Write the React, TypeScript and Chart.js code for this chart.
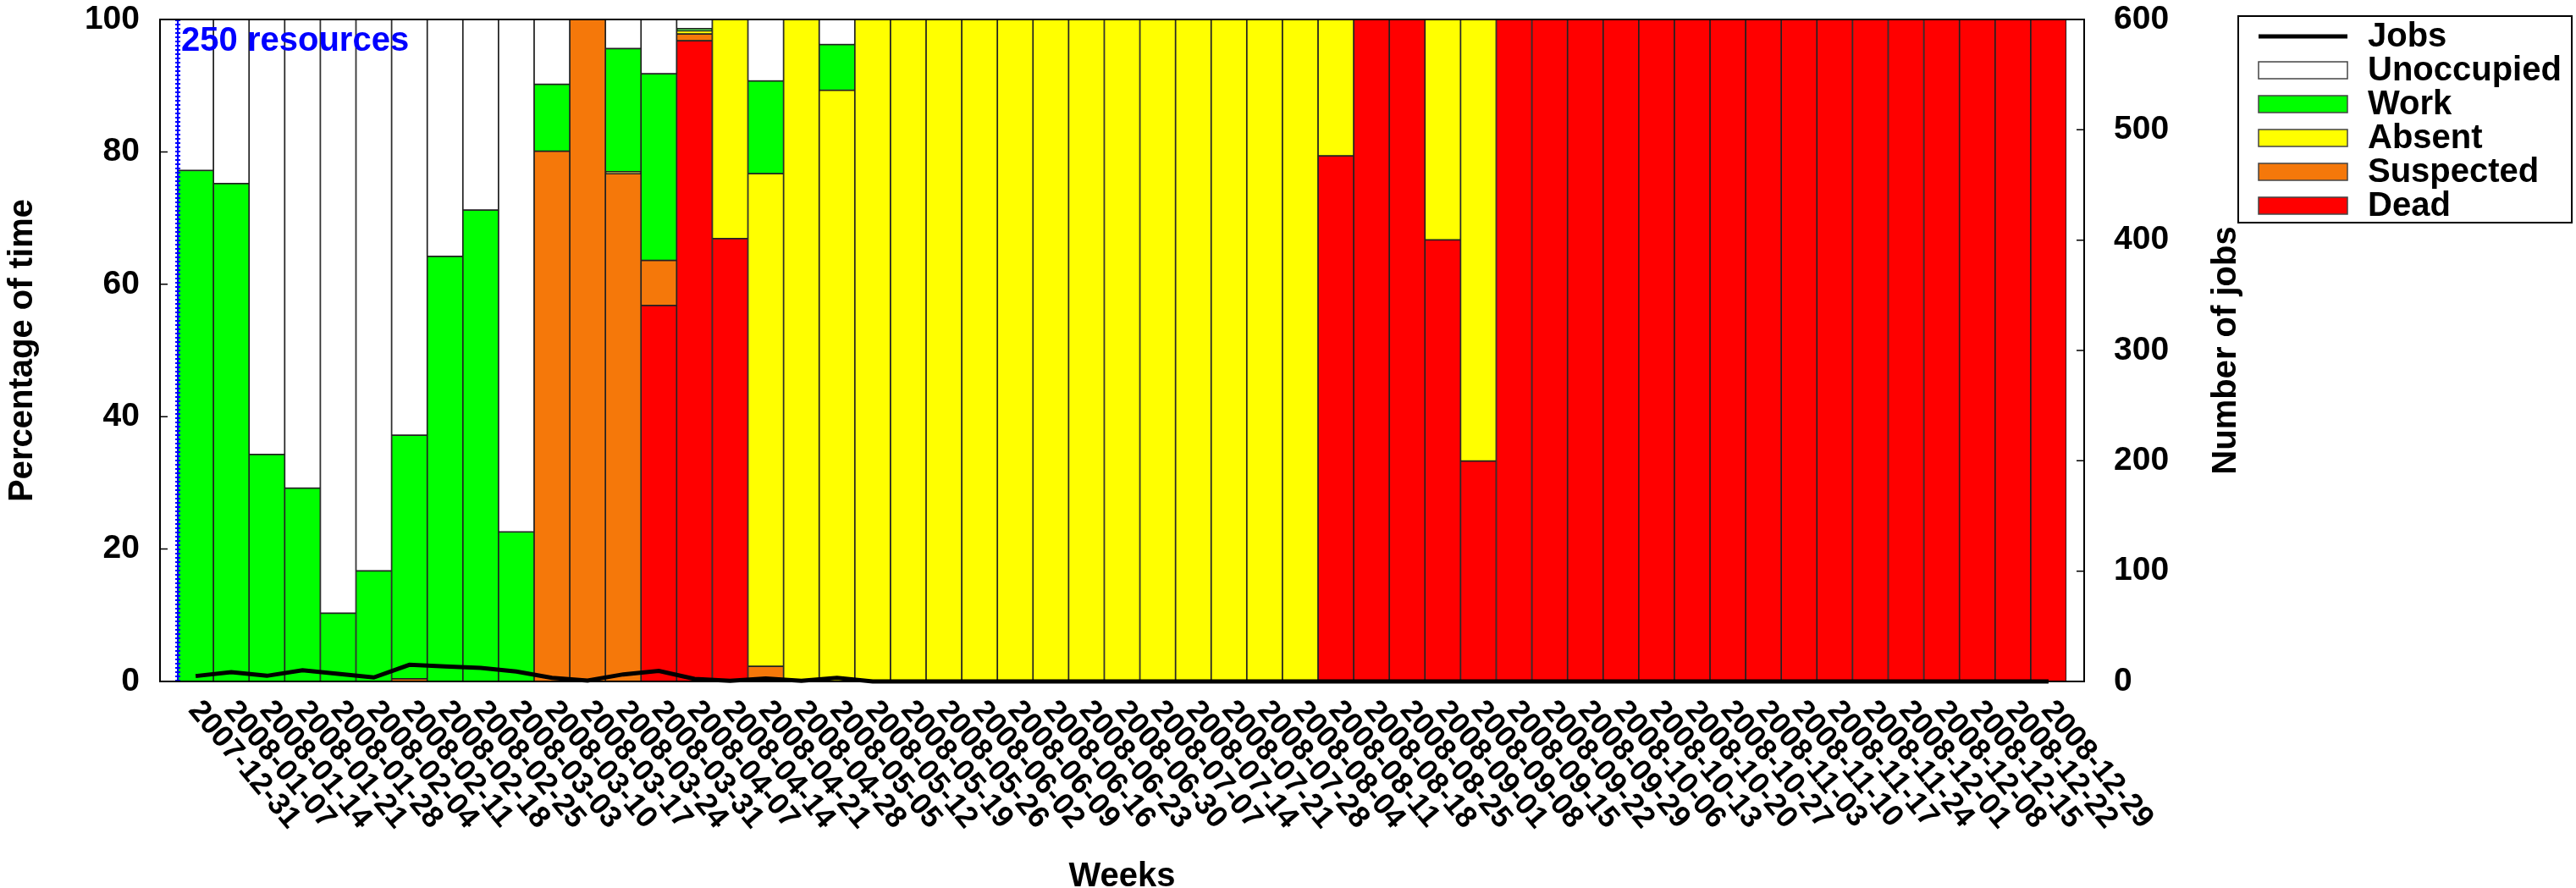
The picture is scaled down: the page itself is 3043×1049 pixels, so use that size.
import React, { useEffect, useRef } from 'react';
import { Chart, registerables } from 'chart.js';

Chart.register(...registerables);

const weeks = [
  '2007-12-31', '2008-01-07', '2008-01-14', '2008-01-21', '2008-01-28', '2008-02-04', '2008-02-11',
  '2008-02-18', '2008-02-25', '2008-03-03', '2008-03-10', '2008-03-17', '2008-03-24', '2008-03-31',
  '2008-04-07', '2008-04-14', '2008-04-21', '2008-04-28', '2008-05-05', '2008-05-12', '2008-05-19',
  '2008-05-26', '2008-06-02', '2008-06-09', '2008-06-16', '2008-06-23', '2008-06-30', '2008-07-07',
  '2008-07-14', '2008-07-21', '2008-07-28', '2008-08-04', '2008-08-11', '2008-08-18', '2008-08-25',
  '2008-09-01', '2008-09-08', '2008-09-15', '2008-09-22', '2008-09-29', '2008-10-06', '2008-10-13',
  '2008-10-20', '2008-10-27', '2008-11-03', '2008-11-10', '2008-11-17', '2008-11-24', '2008-12-01',
  '2008-12-08', '2008-12-15', '2008-12-22', '2008-12-29',
];

// Percentage of time per week (stacked bottom -> top: Dead, Suspected, Absent, Work, Unoccupied)
const dead = [
  0, 0, 0, 0, 0, 0, 0, 0, 0, 0, 0, 0, 0, 56.8, 96.8, 66.9, 0, 0, 0, 0, 0, 0, 0, 0, 0, 0, 0, 0, 0, 0, 0, 0,
  79.4, 100, 100, 66.7, 33.3, 100, 100, 100, 100, 100, 100, 100, 100, 100, 100, 100, 100, 100, 100, 100, 100,
];
const suspected = [
  0, 0, 0, 0, 0, 0, 0.4, 0, 0, 0, 80.1, 100, 76.7, 6.8, 1.0, 0, 2.3, 0, 0, 0, 0, 0, 0, 0, 0, 0, 0, 0, 0, 0, 0, 0,
  0, 0, 0, 0, 0, 0, 0, 0, 0, 0, 0, 0, 0, 0, 0, 0, 0, 0, 0, 0, 0,
];
const absent = [
  0, 0, 0, 0, 0, 0, 0, 0, 0, 0, 0, 0, 0.3, 0, 0.5, 33.1, 74.4, 100, 89.3, 100, 100, 100, 100, 100, 100, 100, 100, 100, 100, 100, 100, 100,
  20.6, 0, 0, 33.3, 66.7, 0, 0, 0, 0, 0, 0, 0, 0, 0, 0, 0, 0, 0, 0, 0, 0,
];
const work = [
  77.2, 75.2, 34.3, 29.2, 10.3, 16.7, 36.8, 64.2, 71.2, 22.6, 10.1, 0, 18.6, 28.2, 0.3, 0, 14.0, 0, 6.9, 0, 0, 0, 0, 0, 0, 0, 0, 0, 0, 0, 0, 0,
  0, 0, 0, 0, 0, 0, 0, 0, 0, 0, 0, 0, 0, 0, 0, 0, 0, 0, 0, 0, 0,
];
const unoccupied = [
  22.8, 24.8, 65.7, 70.8, 89.7, 83.3, 62.8, 35.8, 28.8, 77.4, 9.8, 0, 4.4, 8.2, 1.4, 0, 9.3, 0, 3.8, 0, 0, 0, 0, 0, 0, 0, 0, 0, 0, 0, 0, 0,
  0, 0, 0, 0, 0, 0, 0, 0, 0, 0, 0, 0, 0, 0, 0, 0, 0, 0, 0, 0, 0,
];
// Number of jobs per week (right axis)
const jobs = [
  4.9, 8.4, 5.1, 10.2, 6.9, 3.6, 15.1, 13.6, 12.2, 9.0, 3.3, 0.8, 6.4, 9.5, 2.3, 0.5, 2.6, 0.5, 3.3, 0, 0, 0, 0, 0, 0, 0, 0, 0, 0, 0, 0, 0,
  0, 0, 0, 0, 0, 0, 0, 0, 0, 0, 0, 0, 0, 0, 0, 0, 0, 0, 0, 0, 0,
];

const percentTicks = [0, 20, 40, 60, 80, 100];
const jobTicks = [0, 100, 200, 300, 400, 500, 600];

const legendOrder = ['Jobs', 'Unoccupied', 'Work', 'Absent', 'Suspected', 'Dead'];
const annotationText = '250 resources';

const FONT = "'Liberation Sans', Arial, Helvetica, sans-serif";
const COLORS: Record<string, string> = {
  Dead: '#ff0000',
  Suspected: '#f5780a',
  Absent: '#ffff00',
  Work: '#00ff00',
  Unoccupied: '#ffffff',
  Jobs: '#000000',
};

const toPoints = (arr: number[]) => arr.map((v, i) => ({ x: i, y: v }));

const LABEL_ANGLE = (50 * Math.PI) / 180;

const decorPlugin = {
  id: 'decor',
  afterDatasetsDraw(chart: any) {
    const { ctx, chartArea } = chart;
    const xs = chart.scales.x;
    const { left, right, top, bottom } = chartArea;

    // blue dotted resource marker
    const bx = xs.getPixelForValue(-0.5);
    ctx.save();
    ctx.strokeStyle = '#0000ff';
    ctx.lineWidth = 6;
    ctx.setLineDash([2, 3]);
    ctx.beginPath();
    ctx.moveTo(bx, top);
    ctx.lineTo(bx, bottom);
    ctx.stroke();
    ctx.setLineDash([]);
    ctx.lineWidth = 2;
    ctx.beginPath();
    ctx.moveTo(bx, top);
    ctx.lineTo(bx, bottom);
    ctx.stroke();
    ctx.fillStyle = '#0000ff';
    ctx.font = `bold 40px ${FONT}`;
    ctx.textAlign = 'left';
    ctx.textBaseline = 'alphabetic';
    ctx.fillText(annotationText, bx + 4, top + 37);
    ctx.restore();

    // frame
    ctx.save();
    ctx.strokeStyle = '#000';
    ctx.lineWidth = 2;
    ctx.strokeRect(left, top, right - left, bottom - top);

    // inward tick marks
    const ys = chart.scales.y;
    const y1 = chart.scales.y1;
    ctx.lineWidth = 1.5;
    ctx.beginPath();
    percentTicks.forEach((t) => {
      const py = ys.getPixelForValue(t);
      ctx.moveTo(left, py);
      ctx.lineTo(left + 9, py);
    });
    jobTicks.forEach((t) => {
      const py = y1.getPixelForValue(t);
      ctx.moveTo(right, py);
      ctx.lineTo(right - 9, py);
    });
    ctx.stroke();
    ctx.restore();
  },
  afterDraw(chart: any) {
    const { ctx, chartArea } = chart;
    const xs = chart.scales.x;
    const { left, right, top, bottom } = chartArea;

    ctx.save();
    ctx.fillStyle = '#000';
    // rotated week labels
    ctx.font = `bold 36px ${FONT}`;
    ctx.textAlign = 'left';
    ctx.textBaseline = 'middle';
    weeks.forEach((w, i) => {
      const px = xs.getPixelForValue(i);
      ctx.save();
      ctx.translate(px - 2, bottom + 28);
      ctx.rotate(LABEL_ANGLE);
      ctx.fillText(w, 0, 0);
      ctx.restore();
    });

    // axis titles
    ctx.font = `bold 40px ${FONT}`;
    ctx.textAlign = 'center';
    ctx.textBaseline = 'alphabetic';
    ctx.fillText('Weeks', (left + right) / 2, 1047);

    ctx.textBaseline = 'middle';
    ctx.save();
    ctx.translate(27, (top + bottom) / 2);
    ctx.rotate(-Math.PI / 2);
    ctx.fillText('Percentage of time', 0, 0);
    ctx.restore();

    ctx.save();
    ctx.translate(2630, (top + bottom) / 2);
    ctx.rotate(-Math.PI / 2);
    ctx.fillText('Number of jobs', 0, 0);
    ctx.restore();

    // legend
    const bxL = 2644, byT = 19, bw = 394, bh = 244;
    ctx.lineWidth = 2;
    ctx.strokeStyle = '#000';
    ctx.strokeRect(bxL, byT, bw, bh);
    ctx.font = `bold 40px ${FONT}`;
    ctx.textAlign = 'left';
    ctx.textBaseline = 'middle';
    legendOrder.forEach((name, k) => {
      const cy = 43 + 40 * k;
      const ds = chart.data.datasets.find((d: any) => d.label === name);
      if (!ds) return;
      if (ds.type === 'line') {
        ctx.strokeStyle = ds.borderColor;
        ctx.lineWidth = 5;
        ctx.beginPath();
        ctx.moveTo(2668, cy);
        ctx.lineTo(2773, cy);
        ctx.stroke();
      } else {
        ctx.fillStyle = ds.backgroundColor;
        ctx.fillRect(2668, cy - 10, 105, 20);
        ctx.strokeStyle = '#444';
        ctx.lineWidth = 1.5;
        ctx.strokeRect(2668, cy - 10, 105, 20);
      }
      ctx.fillStyle = '#000';
      ctx.fillText(name, 2797, cy + 1);
    });
    ctx.restore();
  },
};

const noPad = (s: any) => {
  s.paddingTop = 0;
  s.paddingBottom = 0;
};

export default function App() {
  const canvasRef = useRef<HTMLCanvasElement | null>(null);

  useEffect(() => {
    if (!canvasRef.current) return;
    const barDs = (label: string, values: number[]) => ({
      type: 'bar' as const,
      label,
      data: toPoints(values),
      backgroundColor: COLORS[label],
      borderColor: '#222222',
      borderWidth: 1.2,
      borderSkipped: false,
      barPercentage: 1,
      categoryPercentage: 1,
      yAxisID: 'y',
      order: 1,
    });

    const chart = new Chart(canvasRef.current, {
      type: 'bar',
      data: {
        datasets: [
          {
            type: 'line' as const,
            label: 'Jobs',
            data: toPoints(jobs),
            borderColor: '#000000',
            backgroundColor: '#000000',
            borderWidth: 5,
            pointRadius: 0,
            tension: 0,
            yAxisID: 'y1',
            order: 0,
            clip: false,
          } as any,
          barDs('Dead', dead),
          barDs('Suspected', suspected),
          barDs('Absent', absent),
          barDs('Work', work),
          barDs('Unoccupied', unoccupied),
        ],
      },
      options: {
        animation: false,
        responsive: true,
        maintainAspectRatio: false,
        devicePixelRatio: 1,
        layout: { padding: { top: 23, bottom: 0, left: 0, right: 0 } },
        plugins: {
          legend: { display: false },
          tooltip: { enabled: false },
          title: { display: false },
        },
        scales: {
          x: {
            type: 'linear',
            min: -1,
            max: 53,
            offset: false,
            stacked: true,
            grid: { display: false },
            border: { display: false },
            ticks: { display: false },
            afterFit: (s: any) => {
              s.height = 244;
              s.paddingLeft = 0;
              s.paddingRight = 0;
            },
          },
          y: {
            type: 'linear',
            position: 'left',
            stacked: true,
            min: 0,
            max: 100,
            grid: { display: false, drawTicks: false },
            border: { display: false },
            ticks: {
              stepSize: 20,
              padding: 24,
              color: '#000',
              font: { family: FONT, size: 39, weight: 'bold' },
            },
            afterFit: (s: any) => {
              s.width = 189;
              noPad(s);
            },
          },
          y1: {
            type: 'linear',
            position: 'right',
            min: 0,
            max: 600,
            grid: { display: false, drawTicks: false },
            border: { display: false },
            ticks: {
              stepSize: 100,
              padding: 35,
              color: '#000',
              font: { family: FONT, size: 39, weight: 'bold' },
            },
            afterFit: (s: any) => {
              s.width = 581;
              noPad(s);
            },
          },
        },
      } as any,
      plugins: [decorPlugin],
    });

    return () => chart.destroy();
  }, []);

  return (
    <div style={{ position: 'fixed', left: 0, top: 0, width: 3043, height: 1049, background: '#fff' }}>
      <canvas ref={canvasRef} />
    </div>
  );
}
